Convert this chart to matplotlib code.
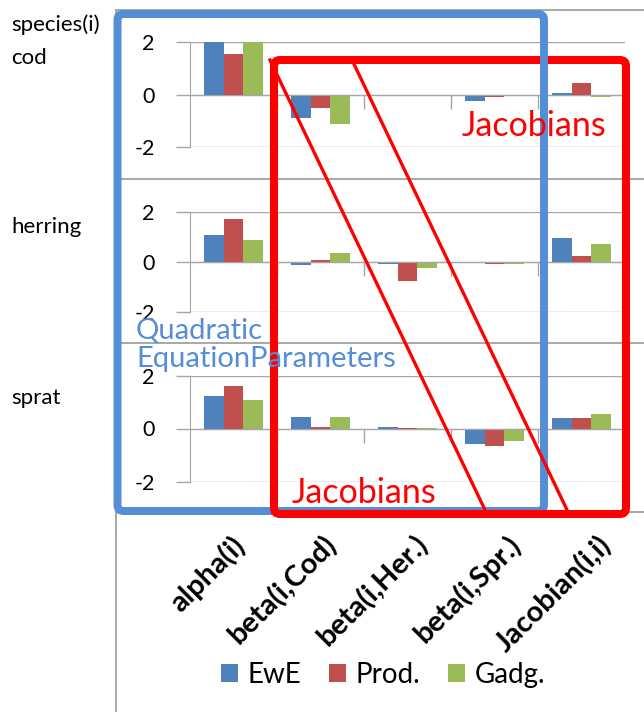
import numpy as np
import matplotlib
matplotlib.use("Agg")
import matplotlib.pyplot as plt
from matplotlib.patches import FancyBboxPatch, Patch

plt.rcParams['font.family'] = ['Lato', 'DejaVu Sans']

# ---- data -------------------------------------------------------------
parameters = ["alpha(i)", "beta(i,Cod)", "beta(i,Her.)", "beta(i,Spr.)", "Jacobian(i,i)"]
models = ["EwE", "Prod.", "Gadg."]
species = ["cod", "herring", "sprat"]

cod_ewe = [2.0, -0.88, -0.07, -0.25, 0.07]
cod_prod = [1.55, -0.52, -0.07, -0.09, 0.46]
cod_gadg = [2.0, -1.12, -0.01, -0.01, -0.09]

herring_ewe = [1.07, -0.14, -0.08, 0.02, 0.96]
herring_prod = [1.72, 0.08, -0.78, -0.08, 0.26]
herring_gadg = [0.90, 0.37, -0.25, -0.08, 0.73]

sprat_ewe = [1.24, 0.44, 0.06, -0.57, 0.39]
sprat_prod = [1.62, 0.06, 0.01, -0.65, 0.39]
sprat_gadg = [1.09, 0.44, 0.01, -0.46, 0.54]

panel_values = {
    "cod": [cod_ewe, cod_prod, cod_gadg],
    "herring": [herring_ewe, herring_prod, herring_gadg],
    "sprat": [sprat_ewe, sprat_prod, sprat_gadg],
}

y_ticks = [-2, 0, 2]
model_colors = ["#4F81BD", "#C0504D", "#9BBB59"]

# ---- figure layout (pixel based) -----------------------------------
W, H = 644, 712
fig = plt.figure(figsize=(W / 100, H / 100), dpi=100)

GRID = "#A6A6A6"
BORDER = "#9A9A9A"

# (top of +2 gridline, bottom at -2 gridline) for each chart, in px
panel_rows = [(42.3, 147.0), (212.3, 311.7), (375.5, 481.5)]
ax_left, ax_right = 190, 625

x = np.arange(len(parameters))
bar_w = 0.224

for name, (ytop, ybot) in zip(species, panel_rows):
    ax = fig.add_axes([ax_left / W, 1 - ybot / H, (ax_right - ax_left) / W, (ybot - ytop) / H])
    for k, (vals, col) in enumerate(zip(panel_values[name], model_colors)):
        ax.bar(x + (k - 1) * bar_w, vals, width=bar_w, color=col, zorder=2)
    ax.set_xlim(-0.5, len(parameters) - 0.5)
    ax.set_ylim(-2, 2)
    ax.set_yticks(y_ticks)
    ax.set_yticklabels([str(t) for t in y_ticks])
    ax.tick_params(axis="y", length=10, width=1, color=GRID, pad=15.5, labelsize=15.5,
                   direction="out")
    ax.yaxis.grid(True, color=GRID, lw=1, zorder=0)
    ax.set_axisbelow(True)
    for s in ("top", "right"):
        ax.spines[s].set_visible(False)
    ax.spines["left"].set_color(GRID)
    ax.spines["bottom"].set_position(("data", 0))
    ax.spines["bottom"].set_color(GRID)
    ax.spines["bottom"].set_zorder(3)
    ax.set_xticks(np.arange(0.5, len(parameters) - 0.5, 1.0))
    ax.tick_params(axis="x", length=10, width=1, color=GRID, direction="out",
                   labelbottom=False)
    ax.patch.set_alpha(0)

# category labels and legend live in the chart below the panels
lab_left, lab_step = 185.0, 91.75
lab_ax = fig.add_axes([lab_left / W, 1 - 531 / H, lab_step * len(parameters) / W, 0.001])
lab_ax.set_xlim(-0.5, len(parameters) - 0.5)
lab_ax.set_xticks(x)
lab_ax.set_xticklabels(parameters, rotation=45, ha="right", va="top",
                       rotation_mode="anchor", fontweight="bold", fontsize=21)
lab_ax.tick_params(axis="x", length=0, pad=0)
lab_ax.set_yticks([])
for s in lab_ax.spines.values():
    s.set_visible(False)
lab_ax.patch.set_alpha(0)

handles = [Patch(facecolor=c, edgecolor="none") for c in model_colors]
fig.legend(handles, models, loc="center", bbox_to_anchor=(383 / W, 1 - 675 / H),
           ncol=3, frameon=False, fontsize=20, handlelength=0.6, handleheight=0.6,
           handletextpad=0.35, columnspacing=1.0)

# species labels in the spreadsheet column
fig.text(11 / W, 1 - 31 / H, "species(i)", fontsize=16, va="baseline")
label_baselines = [64, 233, 404]
for name, yb in zip(species, label_baselines):
    fig.text(11 / W, 1 - yb / H, name, fontsize=16, va="baseline")

# ---- overlay: cell borders, highlight boxes and notes ---------------
ov = fig.add_axes([0, 0, 1, 1], zorder=10)
ov.set_xlim(0, W)
ov.set_ylim(H, 0)
ov.axis("off")
ov.patch.set_alpha(0)

for yy in (10, 179, 343, 512):
    ov.plot([116, W], [yy, yy], color=BORDER, lw=1.2, solid_capstyle="butt", zorder=1)
ov.plot([116, 116], [10, H], color=BORDER, lw=1.2, zorder=1)

BLUE = "#558ED5"
RED = "#FF0000"
px = 0.72  # points per pixel at 100 dpi

red_box = FancyBboxPatch((274, 60), 626 - 274, 514 - 60,
                         boxstyle="round,pad=0,rounding_size=6",
                         fill=False, edgecolor=RED, lw=8 * px, zorder=3)
blue_box = FancyBboxPatch((117.5, 14), 544 - 117.5, 511 - 14,
                          boxstyle="round,pad=0,rounding_size=6",
                          fill=False, edgecolor=BLUE, lw=8 * px, zorder=2)
ov.add_patch(blue_box)
ov.add_patch(red_box)
# the blue frame crosses over the red one along the top edge
ov.plot([544, 544], [50, 70], color=BLUE, lw=8 * px, solid_capstyle="butt", zorder=3.5)

ov.plot([270, 486], [60, 512], color=RED, lw=3.3 * px, zorder=3)
ov.plot([352, 568], [60, 512], color=RED, lw=3.3 * px, zorder=3)

ov.text(461.5, 136, "Jacobians", color=RED, fontsize=24.5, va="baseline", zorder=4)
ov.text(291.5, 503, "Jacobians", color=RED, fontsize=24.5, va="baseline", zorder=4)
ov.text(136, 339, "Quadratic", color=BLUE, fontsize=21, va="baseline", zorder=4)
ov.text(136, 367, "EquationParameters", color=BLUE, fontsize=21, va="baseline", zorder=4)

fig.savefig("out.png", dpi=100)
